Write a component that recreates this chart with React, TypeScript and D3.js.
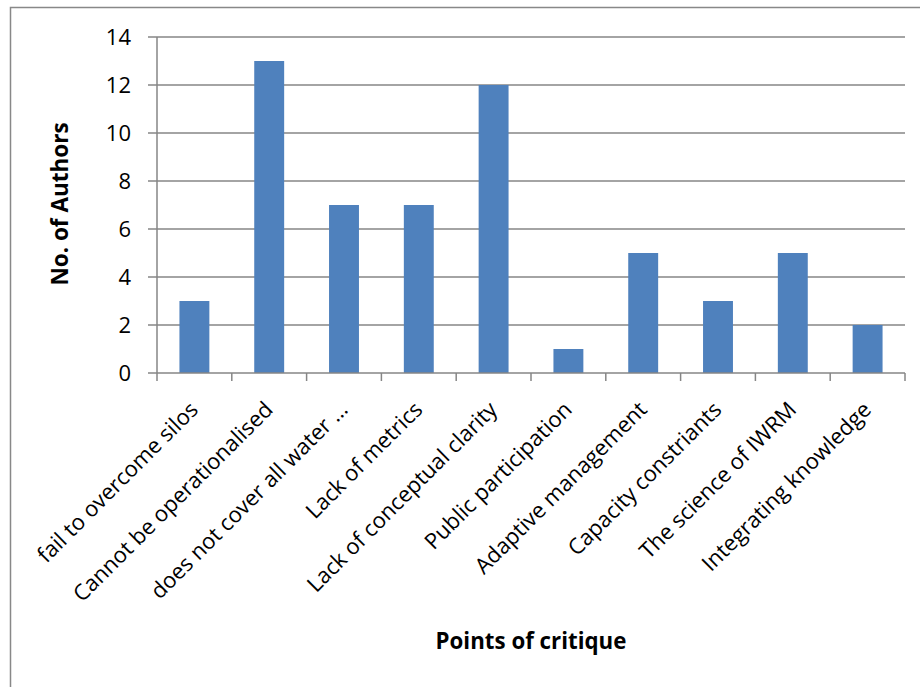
import React from "react";
import * as d3 from "d3";

const categories = [
  "fail to overcome silos",
  "Cannot be operationalised",
  "does not cover all water …",
  "Lack of metrics",
  "Lack of conceptual clarity",
  "Public participation",
  "Adaptive management",
  "Capacity constriants",
  "The science of IWRM",
  "Integrating knowledge",
];
const values = [3, 13, 7, 7, 12, 1, 5, 3, 5, 2];
const yTicks = [0, 2, 4, 6, 8, 10, 12, 14];
const yTitle = "No. of Authors";
const xTitle = "Points of critique";

const W = 920;
const H = 687;
const plot = { left: 157, right: 905, top: 37, bottom: 373 };
const FONT = "'Open Sans', sans-serif";
const GRID = "#868686";

export default function App() {
  const x = d3
    .scaleBand<string>()
    .domain(categories)
    .range([plot.left, plot.right])
    .paddingInner(0.6)
    .paddingOuter(0.3);
  const y = d3.scaleLinear().domain([0, 14]).range([plot.bottom, plot.top]);
  const step = (plot.right - plot.left) / categories.length;
  const tickXs = d3.range(categories.length + 1).map((i) => plot.left + i * step);

  return (
    <svg
      width={W}
      height={H}
      style={{ position: "absolute", left: 0, top: 0, background: "#fff" }}
      fontFamily={FONT}
    >
      <rect x={0} y={0} width={W} height={H} fill="#fff" />
      <rect x={10.5} y={7.5} width={W + 20} height={H + 20} fill="none" stroke="#888" strokeWidth={1.5} />
      {yTicks.map((t) => (
        <g key={t}>
          {t > 0 && (
            <line x1={plot.left} x2={plot.right} y1={y(t)} y2={y(t)} stroke={GRID} strokeWidth={1.5} />
          )}
          <line x1={plot.left - 9} x2={plot.left} y1={y(t)} y2={y(t)} stroke={GRID} strokeWidth={1.5} />
          <text x={131} y={y(t)} dy="0.36em" textAnchor="end" fontSize={22} fill="#000">
            {t}
          </text>
        </g>
      ))}
      {categories.map((c, i) => (
        <rect
          key={c}
          x={x(c)}
          y={y(values[i])}
          width={x.bandwidth()}
          height={y(0) - y(values[i])}
          fill="#4F81BD"
        />
      ))}
      <line x1={plot.left} x2={plot.left} y1={plot.top} y2={plot.bottom} stroke={GRID} strokeWidth={1.5} />
      <line x1={plot.left} x2={plot.right} y1={plot.bottom} y2={plot.bottom} stroke={GRID} strokeWidth={1.5} />
      {tickXs.map((tx, i) => (
        <line key={i} x1={tx} x2={tx} y1={plot.bottom} y2={plot.bottom + 8} stroke={GRID} strokeWidth={1.5} />
      ))}
      {categories.map((c) => {
        const cx = (x(c) as number) + x.bandwidth() / 2;
        return (
          <text
            key={c}
            transform={`translate(${cx + 5},${plot.bottom + 38}) rotate(-45)`}
            textAnchor="end"
            fontSize={22}
            fill="#000"
          >
            {c}
          </text>
        );
      })}
      <text
        transform={`translate(68,204) rotate(-90)`}
        textAnchor="middle"
        fontSize={22.5}
        fontWeight="bold"
        fill="#000"
      >
        {yTitle}
      </text>
      <text x={531} y={649} textAnchor="middle" fontSize={22.3} fontWeight="bold" fill="#000">
        {xTitle}
      </text>
    </svg>
  );
}
